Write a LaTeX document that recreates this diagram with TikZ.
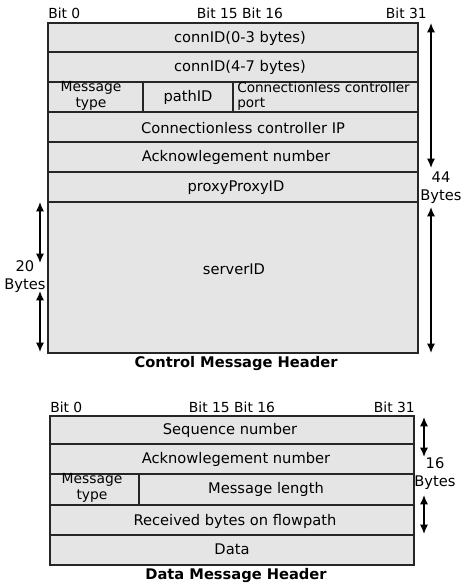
\documentclass[tikz,border=0pt]{standalone}
\usepackage{fontspec}
\setmainfont{DejaVu Sans}
\usetikzlibrary{arrows.meta}
\begin{document}
\begin{tikzpicture}[x=0.75pt,y=-0.75pt,
  field/.style={draw=black!85, line width=1.2pt, fill=black!10},
  txt/.style={inner sep=0pt, font=\fontsize{11}{13.5}\selectfont},
  bits/.style={inner sep=0pt, font=\fontsize{10.4}{12}\selectfont},
  small/.style={inner sep=0pt, font=\fontsize{10.4}{12.5}\selectfont},
  port/.style={inner sep=0pt, font=\fontsize{10.2}{11.3}\selectfont},
  hdr/.style={inner sep=0pt, font=\fontsize{11}{13}\selectfont\bfseries},
  span/.style={line width=1pt, {Latex[length=7pt,width=6pt]}-{Latex[length=7pt,width=6pt]}}]
\useasboundingbox (0,0) rectangle (462,585);

% ---------- control message header ----------
\node[bits, anchor=west] (cb0) at (48,13) {Bit 0};
\node[bits] (cb15) at (240,13) {Bit 15 Bit 16};
\node[bits, anchor=east] (cb31) at (427,13) {Bit 31};

\path[field] (48,23) rectangle (418,52);
\path[field] (48,52) rectangle (418,82);
\path[field] (48,82) rectangle (143,112);
\path[field] (143,82) rectangle (233,112);
\path[field] (233,82) rectangle (418,112);
\path[field] (48,112) rectangle (418,142);
\path[field] (48,142) rectangle (418,172);
\path[field] (48,172) rectangle (418,202);
\path[field] (48,202) rectangle (418,353);

\node[txt] (c1) at (240,38) {connID(0-3 bytes)};
\node[txt] (c2) at (240,67) {connID(4-7 bytes)};
\node[small, align=center] (c3) at (91,96) {Message\\type};
\node[txt] (c4) at (188,97) {pathID};
\node[port, align=left, anchor=west] (c5) at (237,96) {Connectionless controller\\port};
\node[txt] (c6) at (243,128) {Connectionless controller IP};
\node[txt] (c7) at (236,157) {Acknowlegement number};
\node[txt] (c8) at (236,188) {proxyProxyID};
\node[txt] (c9) at (234,269) {serverID};
\node[hdr] (chd) at (236,364) {Control Message Header};

% total size, right side
\node[txt, align=center] (c44) at (441,188) {44\\Bytes};
\coordinate (ca1) at (431,23);
\coordinate (ca2) at (431,168);
\coordinate (ca3) at (431,207);
\coordinate (ca4) at (431,353);
\draw[span] (ca1) -- (ca2);
\draw[span] (ca3) -- (ca4);

% serverID size, left side
\node[txt, align=center] (c20) at (25,277) {20\\Bytes};
\coordinate (cb1) at (40,202);
\coordinate (cb2) at (40,263);
\coordinate (cb3) at (40,291);
\coordinate (cb4) at (40,352);
\draw[span] (cb1) -- (cb2);
\draw[span] (cb3) -- (cb4);

% ---------- data message header ----------
\node[bits, anchor=west] (db0) at (50,407) {Bit 0};
\node[bits] (db15) at (232,407) {Bit 15 Bit 16};
\node[bits, anchor=east] (db31) at (415,407) {Bit 31};

\path[field] (50,416) rectangle (414,444);
\path[field] (50,444) rectangle (414,474);
\path[field] (50,474) rectangle (139,505);
\path[field] (139,474) rectangle (414,505);
\path[field] (50,505) rectangle (414,535);
\path[field] (50,535) rectangle (414,565);

\node[txt] (d1) at (230,430) {Sequence number};
\node[txt] (d2) at (236,459) {Acknowlegement number};
\node[small, align=center] (d3) at (92,488) {Message\\type};
\node[txt] (d4) at (266,489) {Message length};
\node[txt] (d5) at (235,521) {Received bytes on flowpath};
\node[txt] (d6) at (232,549) {Data};
\node[hdr] (dhd) at (236,576) {Data Message Header};

\node[txt, align=center] (d16) at (435,474) {16\\Bytes};
\coordinate (da1) at (424,417);
\coordinate (da2) at (424,457);
\coordinate (da3) at (424,495);
\coordinate (da4) at (424,534);
\draw[span] (da1) -- (da2);
\draw[span] (da3) -- (da4);
\end{tikzpicture}
\end{document}
